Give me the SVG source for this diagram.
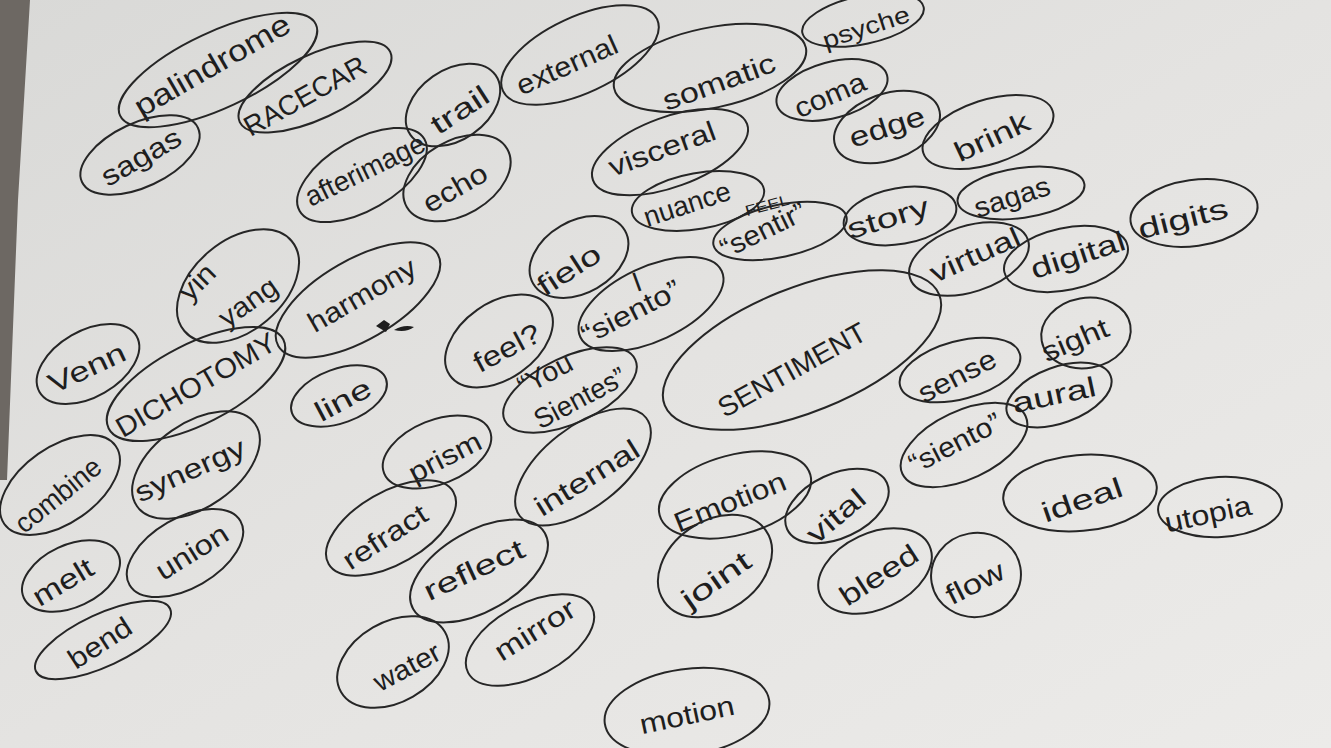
<svg xmlns="http://www.w3.org/2000/svg" width="1331" height="748" viewBox="0 0 1331 748">
<defs>
<linearGradient id="paper" x1="0" y1="0" x2="1" y2="1">
<stop offset="0" stop-color="#d9d9d7"/>
<stop offset="0.5" stop-color="#e4e3e1"/>
<stop offset="1" stop-color="#ecebe9"/>
</linearGradient>
<style>
.n ellipse{fill:none;stroke:#262626;stroke-width:2}
.n text{font-family:"Liberation Sans",Arial,sans-serif;font-size:28px;fill:#1e1e1e;text-anchor:middle;dominant-baseline:central}
.big text{font-size:30px}
.sm{font-size:15px!important}
.ps{font-size:24px!important}
</style>
</defs>
<rect width="1331" height="748" fill="url(#paper)"/>
<polygon points="0,0 30,0 18,200 7,480 0,480" fill="#6d6863"/>
<g id="connectors"/>

<g id="n-palindrome" class="n big"><ellipse transform="translate(218,70) rotate(-25)" rx="108" ry="38"/><text transform="translate(212,65) rotate(-30)" textLength="175" lengthAdjust="spacingAndGlyphs">palindrome</text></g>
<g id="n-racecar" class="n"><ellipse transform="translate(315,87) rotate(-25)" rx="83" ry="32"/><text transform="translate(305,96) rotate(-29)" textLength="135" lengthAdjust="spacingAndGlyphs">RACECAR</text></g>
<g id="n-sagas1" class="n"><ellipse transform="translate(140,155) rotate(-25)" rx="64" ry="32"/><text transform="translate(141,157) rotate(-30)" textLength="88" lengthAdjust="spacingAndGlyphs">sagas</text></g>
<g id="n-afterimage" class="n"><ellipse transform="translate(362,175) rotate(-30)" rx="72" ry="35"/><text transform="translate(365,170) rotate(-26)" textLength="130" lengthAdjust="spacingAndGlyphs">afterimage</text></g>
<g id="n-trail" class="n"><ellipse transform="translate(453,105) rotate(-35)" rx="52" ry="35"/><text transform="translate(460,110) rotate(-33)" textLength="64" lengthAdjust="spacingAndGlyphs">trail</text></g>
<g id="n-echo" class="n"><ellipse transform="translate(457,178) rotate(-30)" rx="58" ry="37"/><text transform="translate(455,188) rotate(-30)" textLength="70" lengthAdjust="spacingAndGlyphs">echo</text></g>
<g id="n-external" class="n"><ellipse transform="translate(580,55) rotate(-25)" rx="85" ry="38"/><text transform="translate(567,65) rotate(-24)" textLength="108" lengthAdjust="spacingAndGlyphs">external</text></g>
<g id="n-somatic" class="n"><ellipse transform="translate(710,68) rotate(-12)" rx="98" ry="40"/><text transform="translate(719,82) rotate(-20)" textLength="118" lengthAdjust="spacingAndGlyphs">somatic</text></g>
<g id="n-psyche" class="n"><ellipse transform="translate(863,20) rotate(-12)" rx="62" ry="24"/><text class="ps" transform="translate(866,27) rotate(-18)" textLength="90" lengthAdjust="spacingAndGlyphs">psyche</text></g>
<g id="n-coma" class="n"><ellipse transform="translate(832,90) rotate(-15)" rx="57" ry="28"/><text transform="translate(830,95) rotate(-23)" textLength="75" lengthAdjust="spacingAndGlyphs">coma</text></g>
<g id="n-edge" class="n"><ellipse transform="translate(887,127) rotate(-20)" rx="55" ry="33"/><text transform="translate(887,127) rotate(-18)" textLength="78" lengthAdjust="spacingAndGlyphs">edge</text></g>
<g id="n-brink" class="n"><ellipse transform="translate(988,132) rotate(-18)" rx="68" ry="32"/><text transform="translate(992,137) rotate(-25)" textLength="80" lengthAdjust="spacingAndGlyphs">brink</text></g>
<g id="n-visceral" class="n"><ellipse transform="translate(670,152) rotate(-20)" rx="82" ry="35"/><text transform="translate(662,149) rotate(-20)" textLength="112" lengthAdjust="spacingAndGlyphs">visceral</text></g>
<g id="n-nuance" class="n"><ellipse transform="translate(698,201) rotate(-10)" rx="67" ry="28"/><text transform="translate(687,204) rotate(-18)" textLength="90" lengthAdjust="spacingAndGlyphs">nuance</text></g>
<g id="n-sentir" class="n"><ellipse transform="translate(780,231) rotate(-12)" rx="68" ry="26"/><text class="sm" transform="translate(767,205) rotate(-15)" textLength="45" lengthAdjust="spacingAndGlyphs">FEEL</text><text transform="translate(763,230) rotate(-26)" textLength="92" lengthAdjust="spacingAndGlyphs">“sentir”</text></g>
<g id="n-story" class="n"><ellipse transform="translate(900,216) rotate(-10)" rx="57" ry="28"/><text transform="translate(888,218) rotate(-17)" textLength="84" lengthAdjust="spacingAndGlyphs">story</text></g>
<g id="n-sagas2" class="n"><ellipse transform="translate(1021,193) rotate(-8)" rx="64" ry="25"/><text transform="translate(1012,197) rotate(-18)" textLength="78" lengthAdjust="spacingAndGlyphs">sagas</text></g>
<g id="n-virtual" class="n"><ellipse transform="translate(969,259) rotate(-18)" rx="62" ry="33"/><text transform="translate(975,255) rotate(-24)" textLength="96" lengthAdjust="spacingAndGlyphs">virtual</text></g>
<g id="n-digital" class="n"><ellipse transform="translate(1066,259) rotate(-12)" rx="63" ry="31"/><text transform="translate(1078,255) rotate(-18)" textLength="98" lengthAdjust="spacingAndGlyphs">digital</text></g>
<g id="n-digits" class="n"><ellipse transform="translate(1194,213) rotate(-8)" rx="64" ry="33"/><text transform="translate(1183,219) rotate(-14)" textLength="92" lengthAdjust="spacingAndGlyphs">digits</text></g>
<g id="n-sentiment" class="n"><ellipse transform="translate(802,350) rotate(-22)" rx="148" ry="62"/><text transform="translate(792,370) rotate(-29)" textLength="165" lengthAdjust="spacingAndGlyphs">SENTIMENT</text></g>
<g id="n-fielo" class="n"><ellipse transform="translate(579,257) rotate(-30)" rx="53" ry="36"/><text transform="translate(569,270) rotate(-33)" textLength="70" lengthAdjust="spacingAndGlyphs">fielo</text></g>
<g id="n-isiento" class="n"><ellipse transform="translate(651,304) rotate(-25)" rx="78" ry="37"/><text transform="translate(637,282) rotate(-20)">I</text><text transform="translate(631,312) rotate(-27)" textLength="108" lengthAdjust="spacingAndGlyphs">“siento”</text></g>
<g id="n-feel" class="n"><ellipse transform="translate(499,341) rotate(-35)" rx="60" ry="38"/><text transform="translate(507,348) rotate(-28)" textLength="72" lengthAdjust="spacingAndGlyphs">feel?</text></g>
<g id="n-yousientes" class="n"><ellipse transform="translate(570,390) rotate(-25)" rx="72" ry="33"/><text transform="translate(545,374) rotate(-28)" textLength="58" lengthAdjust="spacingAndGlyphs">“You</text><text transform="translate(580,398) rotate(-28)" textLength="100" lengthAdjust="spacingAndGlyphs">Sientes”</text></g>
<g id="n-sense" class="n"><ellipse transform="translate(960,370) rotate(-15)" rx="62" ry="29"/><text transform="translate(957,376) rotate(-27)" textLength="84" lengthAdjust="spacingAndGlyphs">sense</text></g>
<g id="n-sight" class="n"><ellipse transform="translate(1086,333) rotate(-10)" rx="45" ry="35"/><text transform="translate(1075,340) rotate(-23)" textLength="70" lengthAdjust="spacingAndGlyphs">sight</text></g>
<g id="n-siento2" class="n"><ellipse transform="translate(964,445) rotate(-25)" rx="68" ry="34"/><text transform="translate(955,443) rotate(-27)" textLength="100" lengthAdjust="spacingAndGlyphs">“siento”</text></g>
<g id="n-aural" class="n"><ellipse transform="translate(1059,395) rotate(-20)" rx="55" ry="28"/><text transform="translate(1054,395) rotate(-12)" textLength="85" lengthAdjust="spacingAndGlyphs">aural</text></g>
<g id="n-ideal" class="n"><ellipse transform="translate(1080,493) rotate(-5)" rx="77" ry="38"/><text transform="translate(1082,500) rotate(-19)" textLength="84" lengthAdjust="spacingAndGlyphs">ideal</text></g>
<g id="n-utopia" class="n"><ellipse transform="translate(1220,507) rotate(-3)" rx="62" ry="30"/><text transform="translate(1208,514) rotate(-12)" textLength="88" lengthAdjust="spacingAndGlyphs">utopia</text></g>
<g id="n-yinyang" class="n"><ellipse transform="translate(238,286) rotate(-40)" rx="70" ry="45"/><text transform="translate(197,282) rotate(-45)" textLength="40" lengthAdjust="spacingAndGlyphs">yin</text><text transform="translate(248,302) rotate(-35)" textLength="65" lengthAdjust="spacingAndGlyphs">yang</text></g>
<g id="n-harmony" class="n"><ellipse transform="translate(358,300) rotate(-30)" rx="92" ry="40"/><text transform="translate(362,295) rotate(-30)" textLength="120" lengthAdjust="spacingAndGlyphs">harmony</text><path d="M376,326 l8,-6 l6,4 l-4,8 z M394,330 q10,-6 20,-3 q-8,6 -20,3 z" fill="#1e1e1e"/></g>
<g id="n-venn" class="n"><ellipse transform="translate(88,364) rotate(-30)" rx="56" ry="33"/><text transform="translate(87,368) rotate(-25)" textLength="82" lengthAdjust="spacingAndGlyphs">Venn</text></g>
<g id="n-dichotomy" class="n"><ellipse transform="translate(196,384) rotate(-27)" rx="98" ry="40"/><text transform="translate(196,385) rotate(-30)" textLength="180" lengthAdjust="spacingAndGlyphs">DICHOTOMY</text></g>
<g id="n-line" class="n"><ellipse transform="translate(339,396) rotate(-20)" rx="50" ry="27"/><text transform="translate(343,400) rotate(-28)" textLength="60" lengthAdjust="spacingAndGlyphs">line</text></g>
<g id="n-combine" class="n"><ellipse transform="translate(60,485) rotate(-35)" rx="68" ry="38"/><text transform="translate(58,495) rotate(-39)" textLength="102" lengthAdjust="spacingAndGlyphs">combine</text></g>
<g id="n-synergy" class="n"><ellipse transform="translate(196,465) rotate(-35)" rx="72" ry="42"/><text transform="translate(190,470) rotate(-24)" textLength="118" lengthAdjust="spacingAndGlyphs">synergy</text></g>
<g id="n-melt" class="n"><ellipse transform="translate(71,576) rotate(-25)" rx="52" ry="31"/><text transform="translate(63,582) rotate(-31)" textLength="66" lengthAdjust="spacingAndGlyphs">melt</text></g>
<g id="n-union" class="n"><ellipse transform="translate(185,553) rotate(-30)" rx="64" ry="35"/><text transform="translate(192,552) rotate(-32)" textLength="80" lengthAdjust="spacingAndGlyphs">union</text></g>
<g id="n-bend" class="n"><ellipse transform="translate(103,640) rotate(-25)" rx="74" ry="26"/><text transform="translate(100,643) rotate(-33)" textLength="70" lengthAdjust="spacingAndGlyphs">bend</text></g>
<g id="n-prism" class="n"><ellipse transform="translate(437,452) rotate(-22)" rx="57" ry="32"/><text transform="translate(445,457) rotate(-27)" textLength="78" lengthAdjust="spacingAndGlyphs">prism</text></g>
<g id="n-refract" class="n"><ellipse transform="translate(391,528) rotate(-30)" rx="72" ry="36"/><text transform="translate(385,537) rotate(-33)" textLength="95" lengthAdjust="spacingAndGlyphs">refract</text></g>
<g id="n-internal" class="n"><ellipse transform="translate(583,467) rotate(-38)" rx="80" ry="40"/><text transform="translate(587,478) rotate(-32)" textLength="118" lengthAdjust="spacingAndGlyphs">internal</text></g>
<g id="n-reflect" class="n"><ellipse transform="translate(479,571) rotate(-30)" rx="76" ry="40"/><text transform="translate(474,570) rotate(-25)" textLength="108" lengthAdjust="spacingAndGlyphs">reflect</text></g>
<g id="n-water" class="n"><ellipse transform="translate(393,662) rotate(-30)" rx="60" ry="40"/><text transform="translate(407,667) rotate(-28)" textLength="72" lengthAdjust="spacingAndGlyphs">water</text></g>
<g id="n-mirror" class="n"><ellipse transform="translate(530,640) rotate(-28)" rx="70" ry="36"/><text transform="translate(535,630) rotate(-32)" textLength="90" lengthAdjust="spacingAndGlyphs">mirror</text></g>
<g id="n-emotion" class="n"><ellipse transform="translate(735,495) rotate(-15)" rx="78" ry="40"/><text transform="translate(730,502) rotate(-22)" textLength="118" lengthAdjust="spacingAndGlyphs">Emotion</text></g>
<g id="n-joint" class="n"><ellipse transform="translate(715,566) rotate(-35)" rx="62" ry="45"/><text transform="translate(716,580) rotate(-35)" textLength="78" lengthAdjust="spacingAndGlyphs">joint</text></g>
<g id="n-vital" class="n"><ellipse transform="translate(837,506) rotate(-25)" rx="55" ry="32"/><text transform="translate(836,516) rotate(-40)" textLength="68" lengthAdjust="spacingAndGlyphs">vital</text></g>
<g id="n-bleed" class="n"><ellipse transform="translate(875,571) rotate(-25)" rx="60" ry="38"/><text transform="translate(879,575) rotate(-33)" textLength="88" lengthAdjust="spacingAndGlyphs">bleed</text></g>
<g id="n-flow" class="n"><ellipse transform="translate(976,575) rotate(-10)" rx="45" ry="42"/><text transform="translate(975,583) rotate(-27)" textLength="62" lengthAdjust="spacingAndGlyphs">flow</text></g>
<g id="n-motion" class="n"><ellipse transform="translate(687,712) rotate(-8)" rx="83" ry="43"/><text transform="translate(687,715) rotate(-12)" textLength="96" lengthAdjust="spacingAndGlyphs">motion</text></g>
</svg>
